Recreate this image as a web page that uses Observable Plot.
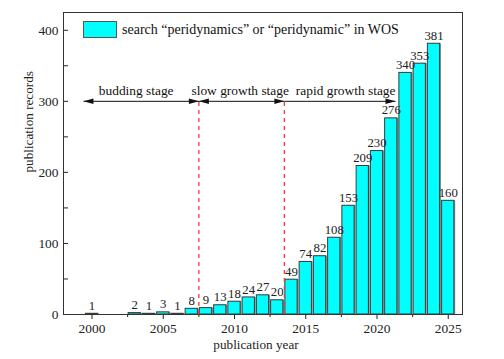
<!DOCTYPE html>
<html>
<head>
<meta charset="utf-8">
<script src="https://cdn.jsdelivr.net/npm/d3@7"></script>
<script src="https://cdn.jsdelivr.net/npm/@observablehq/plot@0.6"></script>
<style>
  html, body { margin: 0; padding: 0; background: #fff; }
  #wrap { position: relative; width: 504px; height: 359px; font-family: "Liberation Serif", "Times New Roman", serif; }
  #legend { position: absolute; left: 83px; top: 21px; display: flex; align-items: center; font-size: 14px; color: #111; }
  #legend .sw { width: 32px; height: 15px; background: #00ffff; border: 1px solid #555; margin-right: 5px; }
</style>
</head>
<body>
<div id="wrap">
  <div id="chart"></div>
  <div id="legend"><span class="sw"></span><span id="legendText"></span></div>
</div>
<script>
const years  = [2000, 2003, 2004, 2005, 2006, 2007, 2008, 2009, 2010, 2011, 2012, 2013, 2014, 2015, 2016, 2017, 2018, 2019, 2020, 2021, 2022, 2023, 2024, 2025];
const counts = [1, 2, 1, 3, 1, 8, 9, 13, 18, 24, 27, 20, 49, 74, 82, 108, 153, 209, 230, 276, 340, 353, 381, 160];

const stageNames  = ["budding stage", "slow growth stage", "rapid growth stage"];
const stageStarts = [1999.4, 2007.5, 2013.5];
const stageEnds   = [2007.5, 2013.5, 2021.3];
const stageLabelX = [2003.1, 2010.4, 2017.8];
const stageLeftHead = [true, true, false];
const stageLevel = 300;
const stageBoundaries = [2007.5, 2013.5];

const xMajorTicks = [2000, 2005, 2010, 2015, 2020, 2025];
const xMinorTicks = [2002.5, 2007.5, 2012.5, 2017.5, 2022.5];
const yMajorTicks = [0, 100, 200, 300, 400];
const yMinorTicks = [50, 150, 250, 350];

const legendLabel = "search \u201Cperidynamics\u201D or \u201Cperidynamic\u201D in WOS";
const xLabel = "publication year";
const yLabel = "publication records";

document.getElementById("legendText").textContent = legendLabel;

const bars = years.map((y, i) => ({year: y, count: counts[i]}));
const stages = stageNames.map((n, i) => ({name: n, x1: stageStarts[i], x2: stageEnds[i], lx: stageLabelX[i], left: stageLeftHead[i], y: stageLevel}));
const headsRight = stages.map(s => ({x: s.x2, y: s.y}));
const headsLeft = stages.filter(s => s.left).map(s => ({x: s.x1, y: s.y}));

const arrowHead = {draw(ctx) { ctx.moveTo(0, 0); ctx.lineTo(-10, -2.8); ctx.lineTo(-10, 2.8); ctx.closePath(); }};
const font = "Liberation Serif, Times New Roman, serif";
const halfW = 0.43;

const chart = Plot.plot({
  width: 504,
  height: 359,
  marginLeft: 63,
  marginRight: 42,
  marginTop: 12,
  marginBottom: 45,
  style: {fontFamily: font, fontSize: "13px", color: "#222", background: "#fff"},
  x: {type: "linear", domain: [1998, 2026]},
  y: {domain: [0, 425]},
  marks: [
    Plot.rectY(bars, {x1: d => d.year - halfW, x2: d => d.year + halfW, y: "count", fill: "#8a8a8a", dx: 1.3}),
    Plot.rectY(bars, {x1: d => d.year - halfW, x2: d => d.year + halfW, y: "count", fill: "#00ffff", stroke: "#3a3a3a", strokeWidth: 1}),
    Plot.text(bars, {x: "year", y: "count", text: d => String(d.count), dy: -8, fontSize: 12.8, fill: "#222"}),
    Plot.ruleX(stageBoundaries, {y1: 0, y2: stageLevel, stroke: "#ee3b3b", strokeWidth: 1.3, strokeDasharray: "4,4"}),
    Plot.link(stages, {x1: "x1", x2: "x2", y1: "y", y2: "y", stroke: "#111", strokeWidth: 1}),
    Plot.dot(headsRight, {x: "x", y: "y", symbol: arrowHead, fill: "#111", stroke: "none"}),
    Plot.dot(headsLeft, {x: "x", y: "y", symbol: arrowHead, rotate: 180, fill: "#111", stroke: "none"}),
    Plot.text(stages, {x: "lx", y: "y", text: "name", dy: -11, fontSize: 13.4, fill: "#111"}),
    Plot.axisX({ticks: xMajorTicks, tickSize: 5, tickPadding: 4, tickFormat: d => String(d), label: null, fontSize: 13.4}),
    Plot.axisX({ticks: xMinorTicks, tickSize: 3, text: null, label: null}),
    Plot.axisY({ticks: yMajorTicks, tickSize: 0, tickPadding: 5, label: null, fontSize: 13.4}),
    Plot.axisY({ticks: yMajorTicks, tickSize: -5, text: null, label: null}),
    Plot.axisY({ticks: yMinorTicks, tickSize: -5, text: null, label: null}),
    Plot.frame({stroke: "#333", strokeWidth: 1}),
    Plot.text([xLabel], {frameAnchor: "bottom", dy: 34, dx: -7, fontSize: 13.2, fill: "#222"}),
    Plot.text([yLabel], {frameAnchor: "left", dx: -35, dy: 9, rotate: -90, fontSize: 13.2, fill: "#222"})
  ]
});
document.getElementById("chart").appendChild(chart);
</script>
</body>
</html>
